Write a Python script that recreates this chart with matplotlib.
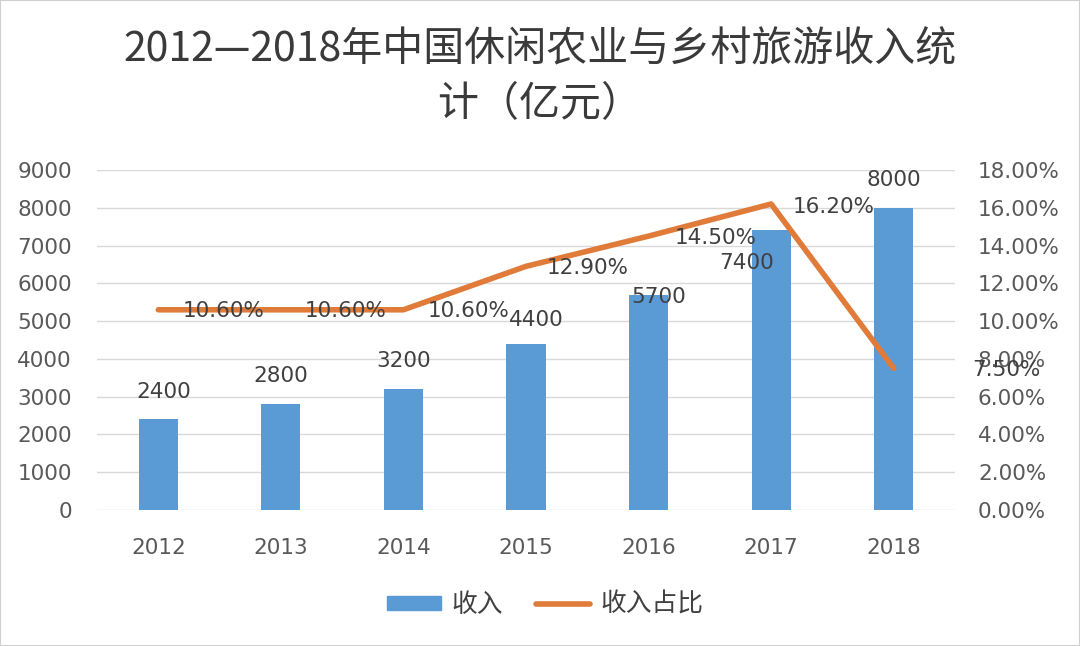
import matplotlib
matplotlib.use("Agg")
import matplotlib.pyplot as plt
from matplotlib.patches import Rectangle

plt.rcParams['font.family'] = ['Noto Sans CJK SC', 'DejaVu Sans']
NUM_FONT = ['DejaVu Sans', 'Noto Sans CJK SC']

years   = ["2012", "2013", "2014", "2015", "2016", "2017", "2018"]
income  = [2400, 2800, 3200, 4400, 5700, 7400, 8000]
share   = [10.6, 10.6, 10.6, 12.9, 14.5, 16.2, 7.5]
left_ticks  = [0, 1000, 2000, 3000, 4000, 5000, 6000, 7000, 8000, 9000]
right_ticks = [0, 2, 4, 6, 8, 10, 12, 14, 16, 18]

# label offsets in pixels (dx, dy), roughly where the source put them
bar_offsets  = [(5, 27), (0, 28), (0, 28), (10, 24), (10, -2), (-25, -33), (0, 28)]
line_offsets = [(65, -1), (65, -1), (65, -1), (62, -2), (67, -2), (63, -3), (113, -2)]

BLUE   = "#5B9BD5"
ORANGE = "#E07B39"
TEXT   = "#404040"
TICK   = "#595959"

fig = plt.figure(figsize=(10.8, 6.46), dpi=100)
ax = fig.add_axes([97 / 1080, 136 / 646, 858 / 1080, 340 / 646])
ax2 = ax.twinx()

x = list(range(len(years)))
ax.bar(x, income, width=0.32, color=BLUE, zorder=2)
ax.set_xlim(-0.5, len(years) - 0.5)
ax.set_ylim(0, 9000)
ax.set_yticks(left_ticks)
ax.set_xticks(x)
ax.set_xticklabels(years)
ax.grid(axis="y", color="#D9D9D9", linewidth=1, zorder=0)
ax.set_axisbelow(True)

ax2.plot(x, share, color=ORANGE, linewidth=4, solid_capstyle="round",
         solid_joinstyle="round", zorder=3)
ax2.set_ylim(0, 18)
ax2.set_yticks(right_ticks)
ax2.set_yticklabels([f"{t:.2f}%" for t in right_ticks])

for a in (ax, ax2):
    for s in a.spines.values():
        s.set_visible(False)
    a.tick_params(length=0, labelsize=15.5, colors=TICK)
    for lbl in a.get_xticklabels() + a.get_yticklabels():
        lbl.set_family(NUM_FONT)
ax.tick_params(axis="y", pad=18)
ax.tick_params(axis="x", pad=20)
ax2.tick_params(axis="y", pad=16.5)

for xi, v, (dx, dy) in zip(x, income, bar_offsets):
    ax.annotate(f"{v}", (xi, v), xytext=(dx, dy), textcoords="offset pixels",
                ha="center", va="center", fontsize=15.5, color=TEXT,
                family=NUM_FONT, zorder=4)

for xi, v, (dx, dy) in zip(x, share, line_offsets):
    ax2.annotate(f"{v:.2f}%", (xi, v), xytext=(dx, dy), textcoords="offset pixels",
                 ha="center", va="center", fontsize=15.5, color=TEXT,
                 family=NUM_FONT, zorder=4)

fig.text(0.5, 1 - 50 / 646, "2012—2018年中国休闲农业与乡村旅游收入统",
         ha="center", va="center", fontsize=29.5, color="#3A3A3A")
fig.text(0.5, 1 - 105 / 646, "计（亿元）",
         ha="center", va="center", fontsize=29.5, color="#3A3A3A")

h1 = Rectangle((0, 0), 1, 1, color=BLUE)
h2 = plt.Line2D([0], [0], color=ORANGE, linewidth=4, solid_capstyle="round")
fig.legend([h1, h2], ["收入", "收入占比"], loc="center", ncol=2,
           bbox_to_anchor=(0.505, 1 - 605 / 646), frameon=False, fontsize=18.5,
           handlelength=2.1, handleheight=0.45, columnspacing=1.3,
           handletextpad=0.4, labelcolor=TEXT)

fig.patches.append(Rectangle((0, 0), 1, 1, transform=fig.transFigure,
                             fill=False, edgecolor="#D0D0D0", linewidth=1.5))

fig.savefig("out.png", dpi=100)
